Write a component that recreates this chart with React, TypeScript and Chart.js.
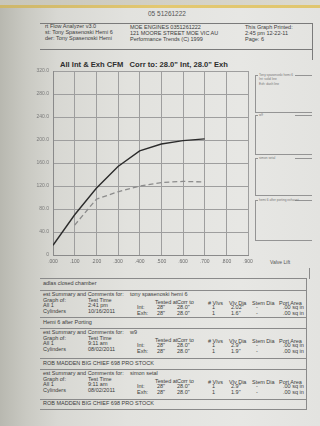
import React, { useEffect, useRef } from "react";
import { Chart, registerables } from "chart.js";

Chart.register(...registerables);

// ---- data ----
const intakeLift = [0, 0.1, 0.2, 0.3, 0.4, 0.5, 0.6, 0.7];
const intakeCfm = [17, 70, 116, 154, 181, 193, 199, 202];
const exhaustLift = [0.1, 0.2, 0.3, 0.4, 0.5, 0.6, 0.7];
const exhaustCfm = [52, 97, 110, 120, 126, 128, 127];
const yMin = 0;
const yMax = 320;
const yStep = 40;
const xMin = 0;
const xMax = 0.9;
const xStep = 0.1;

const FONT = '"Liberation Sans", Arial, sans-serif';
const INK = "#3c3c3c";

type TP = { x: number; y: number; s?: number; b?: boolean; c?: string; children: React.ReactNode };
const T = ({ x, y, s = 5.5, b = false, c = INK, children }: TP) => (
  <div
    style={{
      position: "absolute",
      left: x,
      top: y - s / 2,
      fontSize: s,
      lineHeight: 1,
      fontWeight: b ? "bold" : "normal",
      color: c,
      whiteSpace: "nowrap",
      fontFamily: FONT,
    }}
  >
    {children}
  </div>
);

const HL = ({ x1, x2, y, c = "#8a8a8a" }: { x1: number; x2: number; y: number; c?: string }) => (
  <div style={{ position: "absolute", left: x1, top: y, width: x2 - x1, height: 1, background: c }} />
);
const VL = ({ x, y1, y2, c = "#8a8a8a" }: { x: number; y1: number; y2: number; c?: string }) => (
  <div style={{ position: "absolute", left: x, top: y1, width: 1, height: y2 - y1, background: c }} />
);

const Box = ({ x, y, w, h, label, lines = [] }: { x: number; y: number; w: number; h: number; label: string; lines?: string[] }) => (
  <>
    <VL x={x} y1={y} y2={y + h} c="#949494" />
    <HL x1={x} x2={x + w} y={y + h} c="#949494" />
    <HL x1={x + 1} x2={x + 3} y={y} c="#949494" />
    <HL x1={x + 40} x2={x + w} y={y} c="#949494" />
    <T x={x + 4} y={y + 0.5} s={3.2} c="#777">{label}</T>
    {lines.map((l, i) => (
      <T key={i} x={x + 4} y={y + 5 + i * 4.5} s={3.2} c="#777">{l}</T>
    ))}
  </>
);

type Blk = {
  top: number;
  who: string;
  time: string;
  date: string;
  intDia: string;
  exhDia: string;
};

const blocks: Blk[] = [
  { top: 290, who: "tony spasenoski hemi 6", time: "2:41 pm", date: "10/16/2011", intDia: "2.02\"", exhDia: "1.6\"" },
  { top: 328, who: "w9", time: "9:11 am", date: "08/02/2011", intDia: "2.9\"", exhDia: "1.9\"" },
  { top: 369, who: "simon setal", time: "9:11 am", date: "08/02/2011", intDia: "2.9\"", exhDia: "1.9\"" },
];

const Block = ({ b }: { b: Blk }) => {
  const t = b.top;
  const r1 = t + 18;
  const r2 = t + 23.5;
  return (
    <>
      <T x={43} y={t + 5}>est Summary and Comments for:</T>
      <T x={130} y={t + 5}>{b.who}</T>
      <T x={43} y={t + 10.5}>Graph of:</T>
      <T x={88} y={t + 10.5}>Test Time</T>
      <T x={43} y={t + 16}>All 1</T>
      <T x={88} y={t + 16}>{b.time}</T>
      <T x={43} y={t + 21.5}>Cylinders</T>
      <T x={88} y={t + 21.5}>{b.date}</T>
      <T x={155} y={t + 13}>Tested at</T>
      <T x={177} y={t + 13}>Corr to</T>
      <T x={208} y={t + 13.5}># Vlvs</T>
      <T x={229} y={t + 13.5}>Vlv Dia</T>
      <T x={252} y={t + 13.5}>Stem Dia</T>
      <T x={279} y={t + 13.5}>Port Area</T>
      <T x={137} y={r1}>Int:</T>
      <T x={157} y={r1}>28"</T>
      <T x={177} y={r1}>28.0"</T>
      <T x={212} y={r1}>1</T>
      <T x={231} y={r1}>{b.intDia}</T>
      <T x={256} y={r1}>-</T>
      <T x={283} y={r1}>.00 sq in</T>
      <T x={137} y={r2}>Exh:</T>
      <T x={157} y={r2}>28"</T>
      <T x={177} y={r2}>28.0"</T>
      <T x={212} y={r2}>1</T>
      <T x={231} y={r2}>{b.exhDia}</T>
      <T x={256} y={r2}>-</T>
      <T x={283} y={r2}>.00 sq in</T>
    </>
  );
};

export default function App() {
  const ref = useRef<HTMLCanvasElement>(null);

  useEffect(() => {
    if (!ref.current) return;
    const chart = new Chart(ref.current, {
      type: "line",
      data: {
        datasets: [
          {
            label: "Int",
            data: intakeLift.map((x, i) => ({ x, y: intakeCfm[i] })),
            borderColor: "#2b2b2b",
            borderWidth: 1.4,
            pointRadius: 0,
            tension: 0,
          },
          {
            label: "Exh",
            data: exhaustLift.map((x, i) => ({ x, y: exhaustCfm[i] })),
            borderColor: "#8c8c8c",
            borderWidth: 1.3,
            borderDash: [5, 3],
            pointRadius: 0,
            tension: 0,
          },
        ],
      },
      options: {
        responsive: false,
        animation: false,
        events: [],
        layout: { padding: { left: 0, top: 71, right: 72, bottom: 151 } },
        plugins: { legend: { display: false }, tooltip: { enabled: false }, title: { display: false } },
        scales: {
          x: {
            type: "linear",
            min: xMin,
            max: xMax,
            ticks: {
              stepSize: xStep,
              color: "#6a6a6a",
              font: { size: 5, family: FONT },
              padding: 4,
              maxRotation: 0,
              callback: (v: any) => "." + String(Math.round(Number(v) * 1000)).padStart(3, "0"),
            },
            grid: { color: "#9e9e9e", lineWidth: 1, drawTicks: false },
            border: { color: "#8a8a8a", width: 1 },
            afterFit: (s: any) => {
              s.height = 20;
            },
          },
          y: {
            min: yMin,
            max: yMax,
            ticks: {
              stepSize: yStep,
              color: "#7a7a7a",
              font: { size: 5, family: FONT },
              padding: 4,
              callback: (v: any) => (Number(v) === 0 ? "0" : Number(v).toFixed(1)),
            },
            grid: { color: "#9e9e9e", lineWidth: 1, drawTicks: false },
            border: { color: "#8a8a8a", width: 1 },
            afterFit: (s: any) => {
              s.width = 53;
            },
          },
        },
      },
    });
    return () => chart.destroy();
  }, []);

  return (
    <div
      style={{
        position: "fixed",
        left: 0,
        top: 0,
        width: 320,
        height: 426,
        overflow: "hidden",
        background:
          "linear-gradient(90deg, #b8b8b0 0%, #c9c9c2 8%, #d8d8d3 18%, #e2e2de 40%, #e7e7e4 75%, #e3e3e0 100%)",
        fontFamily: FONT,
      }}
    >
      {/* top strip */}
      <div style={{ position: "absolute", left: 0, top: 0, width: 320, height: 5, background: "linear-gradient(90deg,#c8c6ba,#dcdad0)" }} />
      <div style={{ position: "absolute", left: 0, top: 5, width: 320, height: 3, background: "linear-gradient(90deg,#cdb66a,#e3c870,#e0c66e)", filter: "blur(0.6px)" }} />
      <T x={148} y={14} s={6.5} c="#555">05 51261222</T>

      {/* header box */}
      <HL x1={40} x2={313} y={23} c="#7a7a7a" />
      <HL x1={40} x2={313} y={49} c="#7a7a7a" />
      <VL x={312} y1={23} y2={60} c="#7a7a7a" />
      <T x={45} y={27}>rt Flow Analyzer v3.0</T>
      <T x={45} y={33}>st: Tony Spasenoski Hemi 6</T>
      <T x={45} y={39}>der: Tony Spasenoski Hemi</T>
      <T x={130} y={27.5}>MOE ENGINES 0351261222</T>
      <T x={130} y={33.5}>121 MOORE STREET MOE VIC AU</T>
      <T x={130} y={39.5}>Performance Trends (C) 1999</T>
      <T x={245} y={28}>This Graph Printed:</T>
      <T x={245} y={34}>2:45 pm 12-22-11</T>
      <T x={245} y={40}>Page: 6</T>

      {/* chart title */}
      <T x={60} y={64.5} s={7.6} b c="#2e2e2e">
        All Int &amp; Exh CFM&nbsp;&nbsp;&nbsp;Corr to: 28.0" Int, 28.0" Exh
      </T>

      {/* right legend boxes */}
      <Box x={255} y={75} w={57} h={37} label="Tony spasenoski hemi 6" lines={["Int: solid line", "Exh: dash line"]} />
      <Box x={255} y={115} w={57} h={39} label="w9" />
      <Box x={255} y={158} w={57} h={37} label="simon setal" />
      <Box x={255} y={200} w={57} h={40} label="hemi 6 after porting exhaust" />

      <T x={270} y={262} s={5} c="#555">Valve Lift</T>

      {/* bottom section */}
      <VL x={309} y1={268} y2={279} c="#8a8a8a" />
      <HL x1={40} x2={307} y={278} />
      <T x={43} y={284}>adlas closed chamber</T>
      <HL x1={40} x2={307} y={290} />
      <Block b={blocks[0]} />
      <HL x1={40} x2={307} y={317} />
      <T x={43} y={322.5}>Hemi 6 after Porting</T>
      <HL x1={40} x2={307} y={328} />
      <Block b={blocks[1]} />
      <HL x1={40} x2={307} y={358} />
      <T x={43} y={364}>ROB MADDEN BIG CHIEF 698 PRO STOCK</T>
      <HL x1={40} x2={307} y={369} />
      <Block b={blocks[2]} />
      <HL x1={40} x2={307} y={399} />
      <T x={43} y={404}>ROB MADDEN BIG CHIEF 698 PRO STOCK</T>
      <HL x1={40} x2={307} y={409} />
      <VL x={306} y1={278} y2={410} c="#8a8a8a" />

      <canvas
        ref={ref}
        width={320}
        height={426}
        style={{ position: "absolute", left: 0, top: 0, width: 320, height: 426 }}
      />
    </div>
  );
}
